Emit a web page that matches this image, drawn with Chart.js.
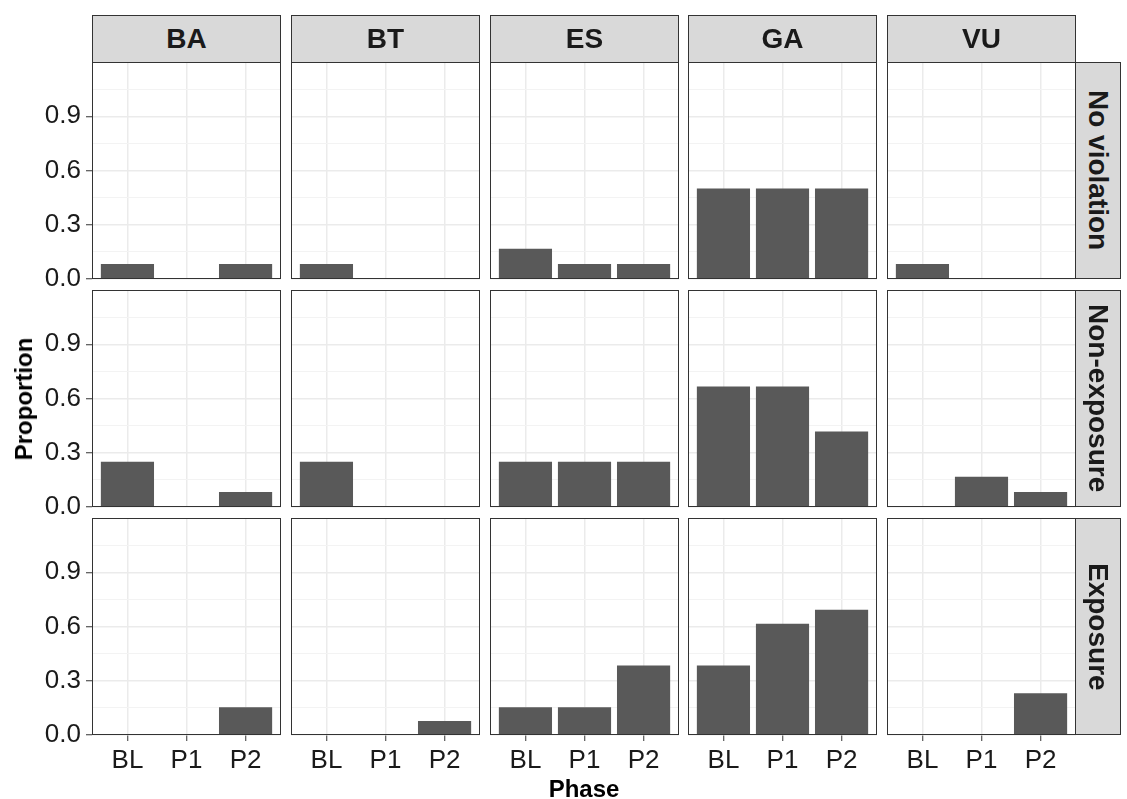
<!DOCTYPE html>
<html>
<head>
<meta charset="utf-8">
<script src="https://cdn.jsdelivr.net/npm/chart.js@4.4.1/dist/chart.umd.min.js"></script>
<style>
html,body{margin:0;padding:0;background:#fff;}
#wrap{position:relative;width:1127px;height:799px;overflow:hidden;font-family:"Liberation Sans",Arial,sans-serif;background:#fff;}
#wrap canvas{position:absolute;}
.strip{position:absolute;background:#D9D9D9;border:1px solid #333;box-sizing:border-box;display:flex;align-items:center;justify-content:center;font-weight:bold;font-size:28px;color:#1a1a1a;line-height:1;}
.strip.v span{writing-mode:vertical-rl;}
.title{position:absolute;font-weight:bold;font-size:24px;color:#000;white-space:nowrap;line-height:1;}
</style>
</head>
<body>
<div id="wrap"></div>
<script>
// ---- data ----
const phases = ['BL', 'P1', 'P2'];
const groups = ['BA', 'BT', 'ES', 'GA', 'VU'];
const outcomes = ['No violation', 'Non-exposure', 'Exposure'];
const yMajorTicks = [0, 0.3, 0.6, 0.9];
const yMinorTicks = [0.15, 0.45, 0.75, 1.05];
// values per group (BA, BT, ES, GA, VU), each [BL, P1, P2]
const noViolation = [
  [0.083, 0, 0.083],
  [0.083, 0, 0],
  [0.167, 0.083, 0.083],
  [0.5, 0.5, 0.5],
  [0.083, 0, 0]
];
const nonExposure = [
  [0.25, 0, 0.083],
  [0.25, 0, 0],
  [0.25, 0.25, 0.25],
  [0.667, 0.667, 0.417],
  [0, 0.167, 0.083]
];
const exposure = [
  [0, 0, 0.154],
  [0, 0, 0.077],
  [0.154, 0.154, 0.385],
  [0.385, 0.615, 0.692],
  [0, 0, 0.231]
];
const rowsData = [noViolation, nonExposure, exposure];

// ---- layout ----
const COL_LEFT = [92, 291, 490, 688, 887];
const ROW_TOP = [62, 290, 518];
const PW = 189, PH = 217;
const STRIP_TOP = 15;
const STRIP_RIGHT_W = 46;
const FONT = "'Liberation Sans', Arial, sans-serif";
const wrap = document.getElementById('wrap');

const allTicks = yMajorTicks.concat(yMinorTicks).sort((a, b) => a - b);
const isMajor = v => yMajorTicks.some(m => Math.abs(m - v) < 1e-6);

const borderPlugin = {
  id: 'panelBorder',
  afterDatasetsDraw(chart) {
    const a = chart.chartArea, ctx = chart.ctx;
    ctx.save();
    ctx.strokeStyle = '#333333';
    ctx.lineWidth = 1;
    ctx.strokeRect(a.left + 0.5, a.top + 0.5, a.right - a.left - 1, a.bottom - a.top - 1);
    ctx.restore();
  }
};

for (let r = 0; r < 3; r++) {
  for (let c = 0; c < 5; c++) {
    const L = c === 0 ? COL_LEFT[0] : 4;
    const T = 4, R = 4;
    const B = r === 2 ? 64 : 18;
    const cv = document.createElement('canvas');
    cv.width = PW + L + R;
    cv.height = PH + T + B;
    cv.style.left = (COL_LEFT[c] - L) + 'px';
    cv.style.top = (ROW_TOP[r] - T) + 'px';
    cv.style.width = cv.width + 'px';
    cv.style.height = cv.height + 'px';
    wrap.appendChild(cv);
    const vals = rowsData[r][c];
    const showY = c === 0, showX = r === 2;
    new Chart(cv.getContext('2d'), {
      type: 'bar',
      data: {
        datasets: [{
          data: vals.map((v, i) => ({ x: i + 1, y: v })),
          backgroundColor: '#595959',
          borderWidth: 0,
          barPercentage: 0.9,
          categoryPercentage: 1.0
        }]
      },
      options: {
        responsive: false,
        animation: false,
        devicePixelRatio: 1,
        layout: { padding: { left: 0, top: T, right: R, bottom: 0 } },
        plugins: { legend: { display: false }, tooltip: { enabled: false } },
        scales: {
          x: {
            type: 'linear',
            offset: false,
            min: 0.4, max: 3.6,
            afterBuildTicks: s => { s.ticks = phases.map((p, i) => ({ value: i + 1 })); },
            afterFit: s => { s.height = B; s.paddingLeft = 0; s.paddingRight = 0; s.paddingTop = 0; s.paddingBottom = 0; },
            border: { display: false },
            grid: {
              offset: false,
              color: '#EBEBEB', lineWidth: 1.5,
              drawTicks: showX, tickLength: 6, tickColor: '#333333', tickWidth: 1
            },
            ticks: {
              display: showX, autoSkip: false, maxRotation: 0, padding: 4,
              color: '#1a1a1a', font: { family: FONT, size: 26 },
              callback: v => phases[Math.round(v) - 1]
            }
          },
          y: {
            type: 'linear',
            min: 0, max: 1.2,
            afterBuildTicks: s => { s.ticks = allTicks.map(v => ({ value: v })); },
            afterFit: s => { s.width = L; s.paddingLeft = 0; s.paddingRight = 0; s.paddingTop = 0; s.paddingBottom = 0; },
            border: { display: false },
            grid: {
              color: ctx => isMajor(ctx.tick.value) ? '#EBEBEB' : '#F3F3F3',
              lineWidth: ctx => isMajor(ctx.tick.value) ? 1.5 : 1,
              drawTicks: showY, tickLength: 6,
              tickColor: ctx => isMajor(ctx.tick.value) ? '#333333' : 'rgba(0,0,0,0)',
              tickWidth: 1
            },
            ticks: {
              display: showY, autoSkip: false, padding: 5,
              color: '#1a1a1a', font: { family: FONT, size: 26 },
              callback: v => isMajor(v) ? v.toFixed(1) : ''
            }
          }
        }
      },
      plugins: [borderPlugin]
    });
  }
}

// top strips
groups.forEach((g, c) => {
  const d = document.createElement('div');
  d.className = 'strip';
  d.style.left = COL_LEFT[c] + 'px';
  d.style.top = STRIP_TOP + 'px';
  d.style.width = PW + 'px';
  d.style.height = (ROW_TOP[0] - STRIP_TOP + 1) + 'px';
  d.textContent = g;
  wrap.appendChild(d);
});
// right strips
outcomes.forEach((o, r) => {
  const d = document.createElement('div');
  d.className = 'strip v';
  d.style.left = (COL_LEFT[4] + PW - 1) + 'px';
  d.style.top = ROW_TOP[r] + 'px';
  d.style.width = STRIP_RIGHT_W + 'px';
  d.style.height = PH + 'px';
  const s = document.createElement('span');
  s.textContent = o;
  d.appendChild(s);
  wrap.appendChild(d);
});
// axis titles
const yt = document.createElement('div');
yt.className = 'title';
yt.textContent = 'Proportion';
yt.style.left = '24px';
yt.style.top = '399px';
yt.style.transform = 'translate(-50%,-50%) rotate(-90deg)';
wrap.appendChild(yt);
const xt = document.createElement('div');
xt.className = 'title';
xt.textContent = 'Phase';
xt.style.left = '584px';
xt.style.top = '789px';
xt.style.transform = 'translate(-50%,-50%)';
wrap.appendChild(xt);
</script>
</body>
</html>
